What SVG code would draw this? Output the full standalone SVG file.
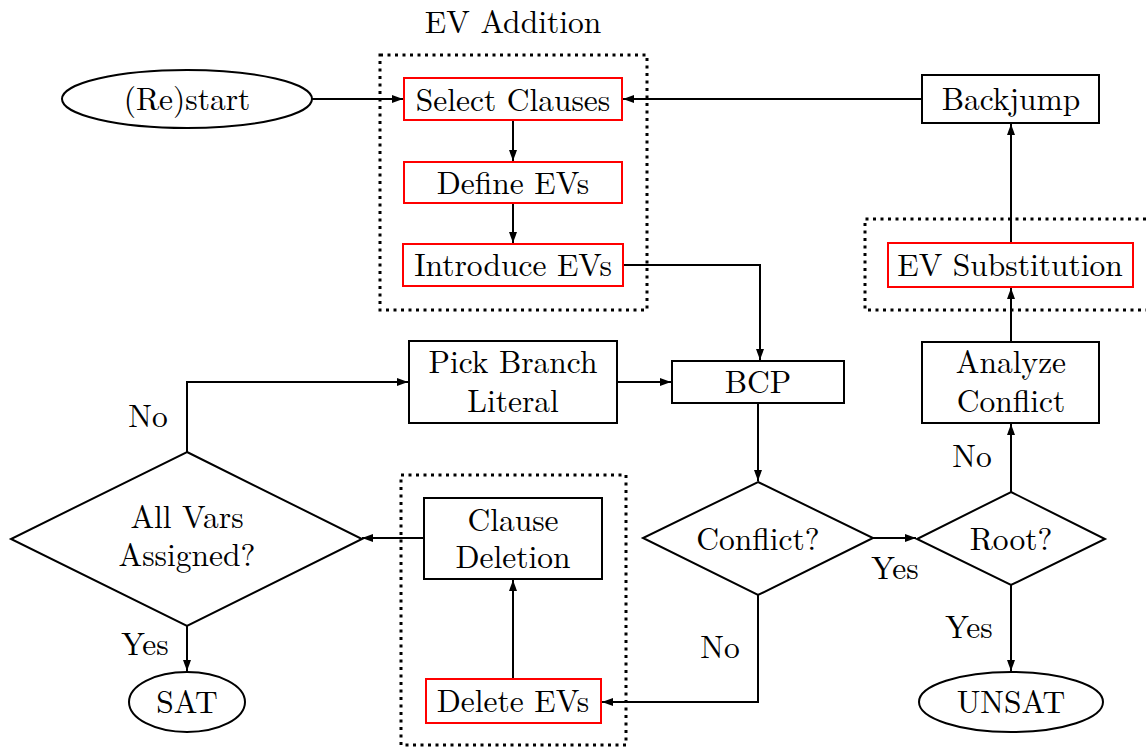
<svg xmlns="http://www.w3.org/2000/svg" width="1146" height="747" viewBox="0 0 1146 747">
<defs>
<marker id="ah" markerWidth="12" markerHeight="10" refX="11" refY="5" orient="auto" markerUnits="userSpaceOnUse">
<path d="M0,1 L11,5 L0,9 Z" fill="#000"/>
</marker>
<style>
text{fill:#000;text-anchor:middle}
.b{fill:#fff;stroke:#000;stroke-width:2}
.r{fill:#fff;stroke:#f00;stroke-width:2}
.dot{fill:none;stroke:#000;stroke-width:3;stroke-dasharray:3 4.5}
.c{fill:none;stroke:#000;stroke-width:2;marker-end:url(#ah)}
</style>
</defs>
<rect width="1146" height="747" fill="#fff"/>
<g font-family="Latin Modern Roman, Liberation Serif, serif" font-size="31.5">
<g id="groups">
<rect class="dot" x="380" y="55" width="267" height="255"/>
<text x="513" y="33">EV Addition</text>
<path class="dot" d="M1146,219 H865 V310 H1146"/>
<rect class="dot" x="401" y="475" width="225" height="270"/>
</g>
<g id="connectors">
<path class="c" d="M312,99 H403"/>
<path class="c" d="M922,99 H623"/>
<path class="c" d="M513,120 V161"/>
<path class="c" d="M513,203 V243"/>
<path class="c" d="M623,265 H760 V360"/>
<path class="c" d="M617,382 H671"/>
<path class="c" d="M758,403 V481"/>
<path class="c" d="M873,538 H916"/>
<path class="c" d="M1011,492 V424"/>
<path class="c" d="M1011,342 V288"/>
<path class="c" d="M1011,243 V124"/>
<path class="c" d="M1011,585 V671"/>
<path class="c" d="M758,595 V702 H602"/>
<path class="c" d="M513,679 V580"/>
<path class="c" d="M424,538 H362"/>
<path class="c" d="M187,452 V382 H408"/>
<path class="c" d="M187,626 V671"/>
<text x="895" y="579">Yes</text>
<text x="972" y="467">No</text>
<text x="969" y="638">Yes</text>
<text x="720" y="658">No</text>
<text x="148" y="427">No</text>
<text x="145" y="655">Yes</text>
</g>
<g id="restart"><ellipse class="b" cx="187" cy="99" rx="125" ry="29"/><text x="187" y="110">(Re)start</text></g>
<g id="select"><rect class="r" x="404" y="78" width="218" height="42"/><text x="513" y="111">Select Clauses</text></g>
<g id="define"><rect class="r" x="404" y="162" width="218" height="41"/><text x="513" y="194">Define EVs</text></g>
<g id="introduce"><rect class="r" x="403" y="244" width="220" height="42"/><text x="513" y="276">Introduce EVs</text></g>
<g id="backjump"><rect class="b" x="922" y="75" width="177" height="48"/><text x="1011" y="110">Backjump</text></g>
<g id="evsub"><rect class="r" x="888" y="243" width="245" height="44"/><text x="1010" y="276">EV Substitution</text></g>
<g id="pick"><rect class="b" x="409" y="341" width="208" height="82"/><text x="513" y="373">Pick Branch</text><text x="513" y="412">Literal</text></g>
<g id="bcp"><rect class="b" x="672" y="361" width="172" height="42"/><text x="758" y="393">BCP</text></g>
<g id="analyze"><rect class="b" x="922" y="342" width="177" height="81"/><text x="1011" y="373">Analyze</text><text x="1011" y="412">Conflict</text></g>
<g id="conflict"><polygon class="b" points="758,482 873,538 758,595 643,538"/><text x="758" y="550">Conflict?</text></g>
<g id="root"><polygon class="b" points="1011,492 1105,539 1011,585 917,539"/><text x="1011" y="550">Root?</text></g>
<g id="unsat"><ellipse class="b" cx="1011" cy="702" rx="92" ry="30"/><text x="1011" y="713">UNSAT</text></g>
<g id="deleteevs"><rect class="r" x="426" y="679" width="175" height="44"/><text x="513" y="712">Delete EVs</text></g>
<g id="clausedel"><rect class="b" x="424" y="498" width="178" height="81"/><text x="513" y="531">Clause</text><text x="513" y="568">Deletion</text></g>
<g id="allvars"><polygon class="b" points="187,452 362,539 187,626 11,539"/><text x="187" y="528">All Vars</text><text x="187" y="566">Assigned?</text></g>
<g id="sat"><ellipse class="b" cx="187" cy="702" rx="58" ry="30"/><text x="187" y="713">SAT</text></g>
</g>
</svg>
